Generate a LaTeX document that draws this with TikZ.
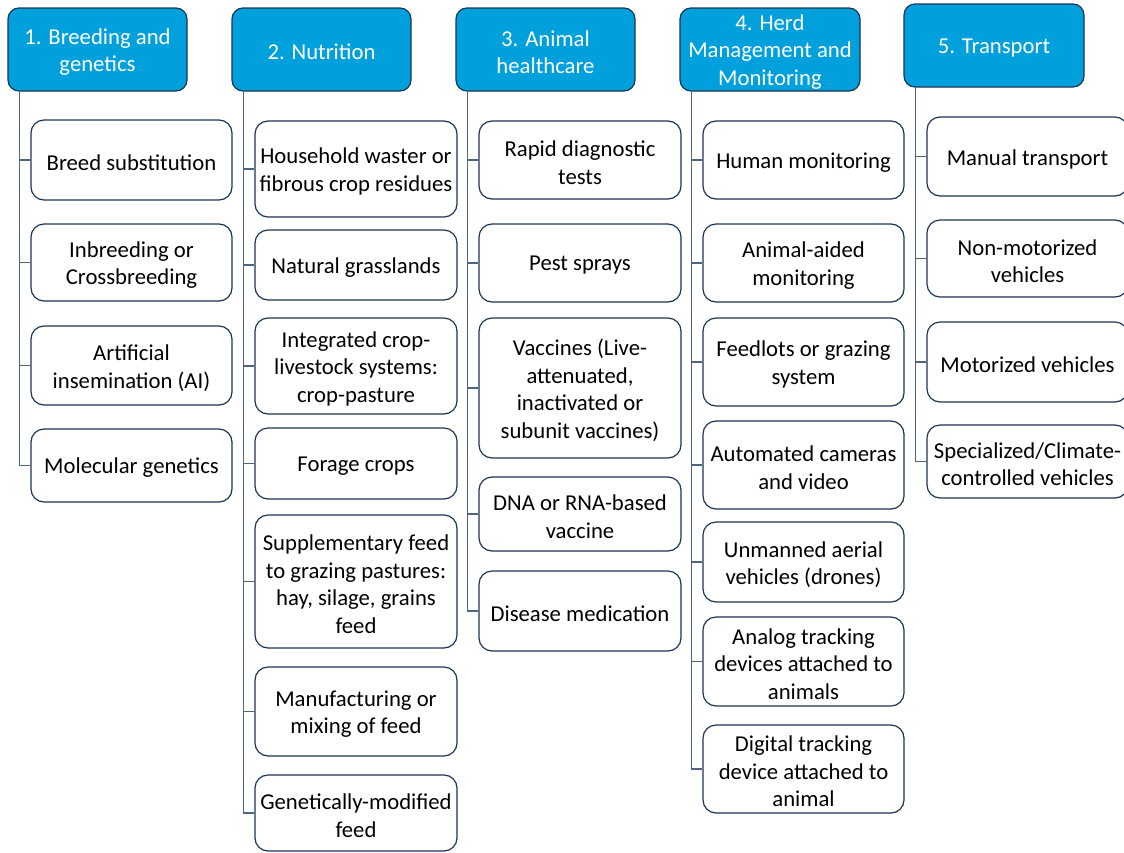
\documentclass[tikz,border=0pt]{standalone}
\usepackage{fontspec}
\setmainfont{Carlito}
\definecolor{hdrfill}{RGB}{0,160,220}
\definecolor{hdrline}{RGB}{28,52,84}
\definecolor{boxline}{RGB}{28,52,84}
\definecolor{linkline}{RGB}{80,100,126}

\tikzset{
  boxtext/.style={align=center, inner sep=0pt,
    font=\fontsize{22.7}{27.5}\selectfont},
  hdr/.style={draw=hdrline, fill=hdrfill, rounded corners=11pt,
    line width=1.2pt, inner sep=0pt},
  hdr txt/.style={boxtext, text=white},
  item/.style={draw=boxline, fill=white, rounded corners=13pt,
    line width=1.2pt, inner sep=0pt},
  item txt/.style={boxtext, text=black},
  link/.style={draw=linkline, line width=1.4pt}
}

% #1 style, #2 name, #3/#4 top-left corner, #5/#6 bottom-right corner, #7 text
% the label sits a little below the geometric centre of its box
\newcommand\cornerbox[7]{%
  \node[#1, minimum width={#5-#3}, minimum height={#6-#4}]
    (#2) at ({(#3+#5)/2},{(#4+#6)/2}) {};
  \node[#1 txt] (#2-label) at ([yshift=-2.5pt]#2.center) {#7};}

\begin{document}
\begin{tikzpicture}[x=1pt, y=-1pt]
\useasboundingbox (0,0) rectangle (1124,852);
\clip (0,0) rectangle (1124,852);

% column headers
\cornerbox{hdr}{h1}{8}{8}{187}{91}{1. Breeding and\\genetics}
\cornerbox{hdr}{h2}{232}{8}{411}{91}{2. Nutrition}
\cornerbox{hdr}{h3}{456}{8}{635}{91}{3. Animal\\healthcare}
\cornerbox{hdr}{h4}{680}{8}{860}{91}{4. Herd\\Management and\\Monitoring}
\cornerbox{hdr}{h5}{904}{4}{1084}{87}{5. Transport}

% 1. Breeding and genetics
\cornerbox{item}{a1}{31}{120}{232}{200}{Breed substitution}
\cornerbox{item}{a2}{31}{224}{232}{301}{Inbreeding or\\Crossbreeding}
\cornerbox{item}{a3}{31}{326}{232}{405}{Artificial\\insemination (AI)}
\cornerbox{item}{a4}{31}{429}{232}{502}{Molecular genetics}

% 2. Nutrition
\cornerbox{item}{b1}{255}{121}{457}{217}{Household waster or\\fibrous crop residues}
\cornerbox{item}{b2}{255}{230}{457}{300}{Natural grasslands}
\cornerbox{item}{b3}{255}{318}{457}{414}{Integrated crop-\\livestock systems:\\crop-pasture}
\cornerbox{item}{b4}{255}{428}{457}{499}{Forage crops}
\cornerbox{item}{b5}{255}{515}{457}{648}{Supplementary feed\\to grazing pastures:\\hay, silage, grains\\feed}
\cornerbox{item}{b6}{255}{667}{457}{756}{Manufacturing or\\mixing of feed}
\cornerbox{item}{b7}{255}{775}{457}{851}{Genetically-modified\\feed}

% 3. Animal healthcare
\cornerbox{item}{c1}{479}{121}{681}{199}{Rapid diagnostic\\tests}
\cornerbox{item}{c2}{479}{224}{681}{302}{Pest sprays}
\cornerbox{item}{c3}{479}{318}{681}{458}{Vaccines (Live-\\attenuated,\\inactivated or\\subunit vaccines)}
\cornerbox{item}{c4}{479}{477}{681}{551}{DNA or RNA-based\\vaccine}
\cornerbox{item}{c5}{479}{571}{681}{651}{Disease medication}

% 4. Herd management and monitoring
\cornerbox{item}{d1}{703}{121}{904}{199}{Human monitoring}
\cornerbox{item}{d2}{703}{224}{904}{302}{Animal-aided\\monitoring}
\cornerbox{item}{d3}{703}{318}{904}{406}{Feedlots or grazing\\system}
\cornerbox{item}{d4}{703}{421}{904}{509}{Automated cameras\\and video}
\cornerbox{item}{d5}{703}{522}{904}{602}{Unmanned aerial\\vehicles (drones)}
\cornerbox{item}{d6}{703}{617}{904}{706}{Analog tracking\\devices attached to\\animals}
\cornerbox{item}{d7}{703}{725}{904}{813}{Digital tracking\\device attached to\\animal}

% 5. Transport
\cornerbox{item}{e1}{927}{117}{1128}{196}{Manual transport}
\cornerbox{item}{e2}{927}{220}{1128}{297}{Non-motorized\\vehicles}
\cornerbox{item}{e3}{927}{322}{1128}{402}{Motorized vehicles}
\cornerbox{item}{e4}{927}{425}{1128}{498}{Specialized/Climate-\\controlled vehicles}

% elbow connectors from each header down to its items
\foreach \h/\c in {h1/a1,h1/a2,h1/a3,h1/a4,
                   h2/b1,h2/b2,h2/b3,h2/b4,h2/b5,h2/b6,h2/b7,
                   h3/c1,h3/c2,h3/c3,h3/c4,h3/c5,
                   h4/d1,h4/d2,h4/d3,h4/d4,h4/d5,h4/d6,h4/d7,
                   h5/e1,h5/e2,h5/e3,h5/e4}
  \draw[link] ([xshift=12pt]\h.south west) |- (\c.west);
\end{tikzpicture}
\end{document}
